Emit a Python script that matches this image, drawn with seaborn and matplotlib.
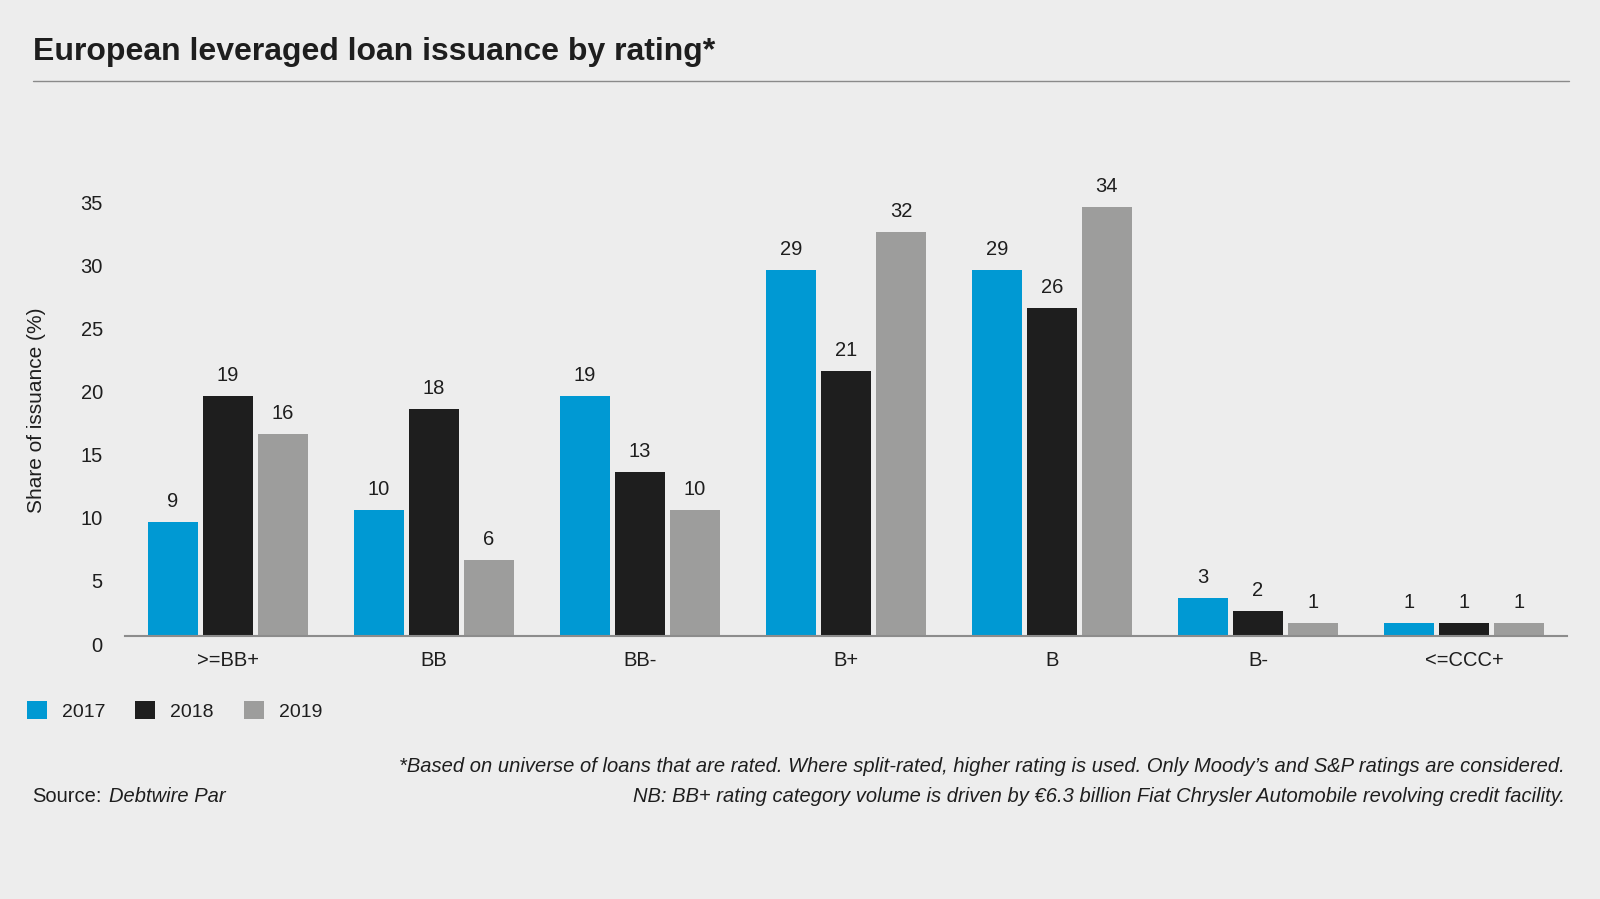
import numpy as np
import pandas as pd
import seaborn as sns
import matplotlib.pyplot as plt
import matplotlib.transforms as mtransforms
from matplotlib.patches import Patch
from matplotlib.lines import Line2D

# 데이터
ratings = ['>=BB+', 'BB', 'BB-', 'B+', 'B', 'B-', '<=CCC+']
years = ['2017', '2018', '2019']
share_2017 = [9, 10, 19, 29, 29, 3, 1]
share_2018 = [19, 18, 13, 21, 26, 2, 1]
share_2019 = [16, 6, 10, 32, 34, 1, 1]
y_ticks = [0, 5, 10, 15, 20, 25, 30, 35]

colors = ['#0099d3', '#1e1e1e', '#9d9d9c']
bg = '#ededed'
txt = '#1e1e1e'

df = pd.DataFrame({
    'rating': ratings * 3,
    'year': np.repeat(years, len(ratings)),
    'share': share_2017 + share_2018 + share_2019,
})

sns.set_theme(style='white')
plt.rcParams['font.family'] = ['Liberation Sans', 'DejaVu Sans']

W, H = 1600, 899
fig = plt.figure(figsize=(16, 8.99), dpi=100, facecolor=bg)
ax = fig.add_axes([125 / W, 1 - 636 / H, 1442 / W, 442 / H])
ax.set_facecolor(bg)

sns.barplot(data=df, x='rating', y='share', hue='year', palette=colors,
            width=0.8, gap=0.09, saturation=1, legend=False, linewidth=0, ax=ax)

for c in ax.containers:
    ax.bar_label(c, padding=8, fontsize=14.5, color=txt)

ax.set_ylim(0, 35)
ax.set_xlim(-0.5, 6.5)
ax.set_yticks(y_ticks)
ax.set_xlabel('')
ax.set_ylabel('')
ax.tick_params(axis='y', length=0, pad=16, labelsize=14.5, labelcolor=txt)
ax.tick_params(axis='x', length=0, pad=11, labelsize=14.5, labelcolor=txt)
# y 눈금 라벨을 약간 아래로
off = mtransforms.ScaledTranslation(0, -0.08, fig.dpi_scale_trans)
for lab in ax.get_yticklabels():
    lab.set_transform(lab.get_transform() + off)

for s in ['left', 'top', 'right']:
    ax.spines[s].set_visible(False)
ax.spines['bottom'].set_color('#8c8c8c')
ax.spines['bottom'].set_linewidth(1.5)

fig.text(37 / W, 1 - 410 / H, 'Share of issuance (%)', rotation=90,
         ha='center', va='center', fontsize=15, color=txt)

# 제목
fig.text(33 / W, 1 - 52 / H, 'European leveraged loan issuance by rating*',
         ha='left', va='center', fontsize=23, fontweight='bold', color=txt)
fig.add_artist(Line2D([33 / W, 1569 / W], [1 - 81 / H] * 2, color='#8a8a8a', lw=1))

# 범례
handles = [Patch(facecolor=col, edgecolor='none') for col in colors]
fig.legend(handles, years, loc='center left', bbox_to_anchor=(27 / W, 1 - 711 / H),
           ncol=3, frameon=False, fontsize=14, borderpad=0, borderaxespad=0,
           handlelength=1.03, handleheight=1.03, handletextpad=0.77,
           columnspacing=1.54, labelcolor=txt)

# 주석
fig.text(1565 / W, 1 - 767 / H,
         '*Based on universe of loans that are rated. Where split-rated, higher rating is used. '
         'Only Moody\u2019s and S&P ratings are considered.',
         ha='right', va='center', fontsize=14.5, style='italic', color=txt)
fig.text(1565 / W, 1 - 796 / H,
         'NB: BB+ rating category volume is driven by \u20ac6.3 billion Fiat Chrysler '
         'Automobile revolving credit facility.',
         ha='right', va='center', fontsize=14.5, style='italic', color=txt)
fig.text(32 / W, 1 - 796 / H, 'Source:', ha='left', va='center', fontsize=14.5, color=txt)
fig.text(109 / W, 1 - 796 / H, 'Debtwire Par', ha='left', va='center', fontsize=14.5,
         style='italic', color=txt)

fig.savefig('out.png', dpi=100, facecolor=bg)
